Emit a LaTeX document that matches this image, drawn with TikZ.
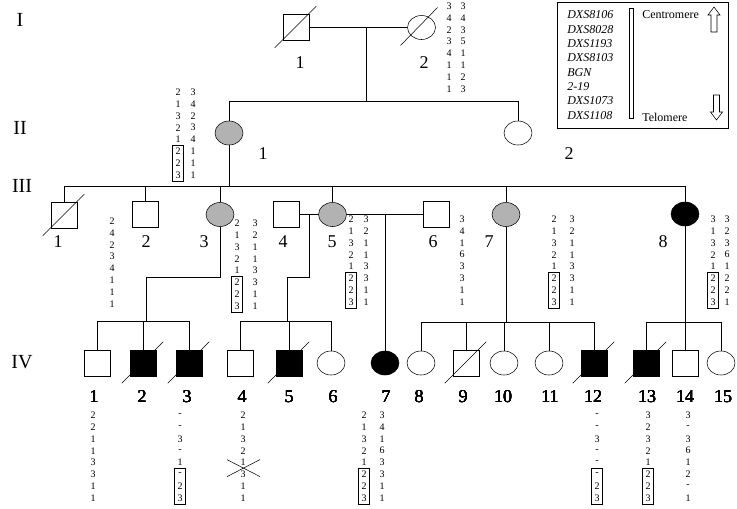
\documentclass[tikz,border=0pt]{standalone}
\usepackage{fontspec}
\setmainfont{Liberation Serif}
\usetikzlibrary{shapes.geometric}

\tikzset{
  homme/.style={draw, rectangle, minimum size=19.5pt, inner sep=0pt},
  femme/.style={draw, ellipse, minimum width=21pt, minimum height=18pt, inner sep=0pt},
  porteuse/.style={femme, fill=gray!60},
  atteint/.style={fill=black},
  num/.style={font=\fontsize{13.5}{13.5}\selectfont, inner sep=0pt},
  gen/.style={font=\fontsize{15}{15}\selectfont, inner sep=0pt},
  hap/.style={font=\fontsize{7.5}{7.5}\selectfont, inner sep=0pt, minimum width=8pt, minimum height=8.9pt},
  leg/.style={font=\fontsize{9}{9}\selectfont\itshape, anchor=west, inner sep=0pt},
}

% une colonne d'haplotype
\newcommand{\hapcol}[4]{%
  \foreach \val [count=\k] in {#4}
    \node[hap] (#1-\k) at (#2,{#3+(\k-1)*11.9}) {\val};}
\newcommand{\boite}[1]{\draw (#1-6.north west) rectangle (#1-8.south east);}
\newcommand{\deces}[1]{\draw ([shift={(-8,7)}]#1.south west) -- ([shift={(7,-8)}]#1.north east);}

\begin{document}
\begin{tikzpicture}[x=0.75pt,y=-0.75pt]
\useasboundingbox (0,0) rectangle (737,508);

% generation I
\node[gen] (gI) at (20,20) {I};
\node[homme] (i1) at (296,27.5) {};
\node[femme] (i2) at (421.5,27.5) {};
\deces{i1}
\draw ([shift={(-21,18)}]i2.center) -- ([shift={(16,-20)}]i2.center);
\node[num] (n-i1) at (300,63) {1};
\node[num] (n-i2) at (424,63) {2};
\draw (i1) -- (i2);
\coordinate (c1) at (366,27.5);
\coordinate (s2) at (366,101);
\draw (c1) -- (s2);
\hapcol{h-i2a}{449}{6}{3,4,2,3,4,1,1,1}
\hapcol{h-i2b}{463}{6}{3,4,3,5,1,1,2,3}

% generation II
\node[gen] (gII) at (20,128) {II};
\node[porteuse] (ii1) at (229,133) {};
\node[femme] (ii2) at (518,133) {};
\draw (ii1) -- (ii1 |- s2) -- (ii2 |- s2) -- (ii2);
\node[num] (n-ii1) at (263,154) {1};
\node[num] (n-ii2) at (569,154) {2};
\hapcol{h-ii1a}{178}{92}{2,1,3,2,1,2,2,3}
\hapcol{h-ii1b}{193}{92}{3,4,2,3,4,1,1,1}
\boite{h-ii1a}

% generation III
\node[gen] (gIII) at (22,186) {III};
\coordinate (s3) at (229,186);
\draw (ii1) -- (s3);
\node[homme] (iii1) at (64,215.5) {};
\node[homme] (iii2) at (145,214) {};
\node[porteuse] (iii3) at (220,214.5) {};
\node[homme] (iii4) at (286,214.5) {};
\node[porteuse] (iii5) at (332.5,214.5) {};
\node[homme] (iii6) at (436,214.5) {};
\node[porteuse] (iii7) at (506,214.5) {};
\node[femme, atteint] (iii8) at (685,214) {};
\deces{iii1}
\draw (iii1) -- (iii1 |- s3) -- (iii8 |- s3) -- (iii8);
\foreach \n in {iii2,iii3,iii5,iii7}
  \draw (\n) -- (\n |- s3);
\draw (iii4) -- (iii5) -- (iii6);
\foreach \n/\x/\t in {1/58/1,2/146/2,3/204/3,4/283/4,5/332/5,6/433/6,7/489/7,8/663/8}
  \node[num] (n-iii\n) at (\x,242) {\t};
\hapcol{h-iii2}{112}{221}{2,4,2,3,4,1,1,1}
\hapcol{h-iii3a}{237}{223}{2,1,3,2,1,2,2,3}
\hapcol{h-iii3b}{255}{223}{3,2,1,1,3,3,1,1}
\boite{h-iii3a}
\hapcol{h-iii5a}{351}{219}{2,1,3,2,1,2,2,3}
\hapcol{h-iii5b}{366}{219}{3,2,1,1,3,3,1,1}
\boite{h-iii5a}
\hapcol{h-iii6}{462}{219}{3,4,1,6,3,3,1,1}
\hapcol{h-iii7a}{554}{219}{2,1,3,2,1,2,2,3}
\hapcol{h-iii7b}{572}{219}{3,2,1,1,3,3,1,1}
\boite{h-iii7a}
\hapcol{h-iii8a}{713}{219}{3,1,3,2,1,2,2,3}
\hapcol{h-iii8b}{727}{219}{3,2,3,6,1,2,2,1}
\boite{h-iii8a}

% generation IV
\node[gen] (gIV) at (22,362) {IV};
\node[homme] (iv1) at (97.5,363) {};
\node[homme, atteint] (iv2) at (143,363) {};
\node[homme, atteint] (iv3) at (189,363) {};
\node[homme] (iv4) at (240.5,363) {};
\node[homme, atteint] (iv5) at (289,363) {};
\node[femme] (iv6) at (331,363) {};
\node[femme, atteint] (iv7) at (385,363) {};
\node[femme] (iv8) at (421,363) {};
\node[homme] (iv9) at (466,363) {};
\node[femme] (iv10) at (504,363) {};
\node[femme] (iv11) at (549,363) {};
\node[homme, atteint] (iv12) at (594,363) {};
\node[homme, atteint] (iv13) at (646,363) {};
\node[homme] (iv14) at (685,363) {};
\node[femme] (iv15) at (721,363) {};
\foreach \n in {iv2,iv3,iv5,iv9,iv12,iv13}
  \deces{\n}
\foreach \n/\x/\t in {1/94/1,2/142/2,3/187/3,4/242/4,5/289/5,6/333/6,7/386/7,8/419/8,9/463/9,10/503/10,11/550/11,12/593/12,13/647/13,14/685/14,15/723/15}
  \node[num] (n-iv\n) at (\x,397) {\t};

% descendances
\coordinate (k) at (0,277);
\coordinate (s4a) at (146,321);
\coordinate (s4b) at (287,321);
\coordinate (s4c) at (506,322);
\coordinate (s4d) at (685,322);
\coordinate (c45) at (309,214.5);
\coordinate (c56) at (385,214.5);
\draw (iii3) -- (iii3 |- k) -| (s4a);
\draw (c45) -- (c45 |- k) -| (s4b);
\draw (c56) -- (iv7);
\draw (iii7) -- (s4c);
\draw (iii8) -- (s4d);
\draw (iv1) -- (iv1 |- s4a) -- (iv3 |- s4a) -- (iv3);
\draw (iv2) -- (iv2 |- s4a);
\draw (iv4) -- (iv4 |- s4b) -- (iv6 |- s4b) -- (iv6);
\draw (iv5) -- (iv5 |- s4b);
\draw (iv8) -- (iv8 |- s4c) -- (iv12 |- s4c) -- (iv12);
\foreach \n in {iv9,iv10,iv11}
  \draw (\n) -- (\n |- s4c);
\draw (iv13) -- (iv13 |- s4d) -- (iv15 |- s4d) -- (iv15);
\draw (iv14) -- (iv14 |- s4d);

% haplotypes IV
\hapcol{h-iv1}{93}{415}{2,2,1,1,3,3,1,1}
\hapcol{h-iv3}{180}{415}{-,-,3,-,1,-,2,3}
\boite{h-iv3}
\hapcol{h-iv4}{243}{415}{2,1,3,2,1,3,1,1}
\draw ([shift={(-16,-3)}]h-iv4-5.center) -- ([shift={(17,14)}]h-iv4-5.center);
\draw ([shift={(-16,14)}]h-iv4-5.center) -- ([shift={(17,-3)}]h-iv4-5.center);
\hapcol{h-iv7a}{364}{415}{2,1,3,2,1,2,2,3}
\hapcol{h-iv7b}{382}{415}{3,4,1,6,3,3,1,1}
\boite{h-iv7a}
\hapcol{h-iv12}{597}{415}{-,-,3,-,-,-,2,3}
\boite{h-iv12}
\hapcol{h-iv13}{648}{415}{3,2,3,2,1,2,2,3}
\boite{h-iv13}
\hapcol{h-iv14}{688}{415}{3,-,3,6,1,2,-,1}

% legende
\draw (557,2) rectangle (728,128);
\foreach \m [count=\k] in {DXS8106,DXS8028,DXS1193,DXS8103,BGN,2-19,DXS1073,DXS1108}
  \node[leg] (m\k) at (567,{15+(\k-1)*14.3}) {\m};
\draw (629,8) rectangle (633,118);
\node[leg, font=\fontsize{9}{9}\selectfont] (centro) at (642,15) {Centromere};
\node[leg, font=\fontsize{9}{9}\selectfont] (telo) at (642,117) {Telomere};
\draw (714,7) -- (720,15) -- (717,15) -- (717,32) -- (711,32) -- (711,15) -- (708,15) -- cycle;
\draw (716.5,120) -- (722.5,112) -- (719.5,112) -- (719.5,95) -- (713.5,95) -- (713.5,112) -- (710.5,112) -- cycle;
\end{tikzpicture}
\end{document}
